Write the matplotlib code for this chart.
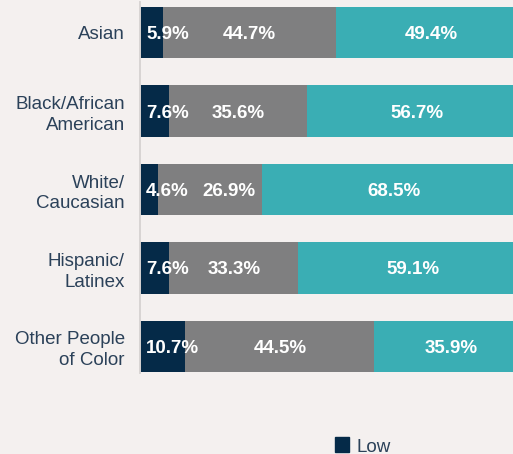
import matplotlib.pyplot as plt
from matplotlib.patches import Rectangle

groups = ['Asian', 'Black/African\nAmerican', 'White/\nCaucasian', 'Hispanic/\nLatinex', 'Other People\nof Color']
low = [5.9, 7.6, 4.6, 7.6, 10.7]
medium = [44.7, 35.6, 26.9, 33.3, 44.5]
high = [49.4, 56.7, 68.5, 59.1, 35.9]

bg = '#f4f0ef'
navy = '#052a48'
gray = '#7f7f80'
teal = '#3aaeb4'
text_col = '#2b4159'

plt.rcParams['font.family'] = ['Liberation Sans', 'DejaVu Sans']

# each bar is stretched to 100% (the last row only adds up to 91.1)
totals = [a + b + c for a, b, c in zip(low, medium, high)]
low_n = [v / t * 100 for v, t in zip(low, totals)]
med_n = [v / t * 100 for v, t in zip(medium, totals)]
high_n = [v / t * 100 for v, t in zip(high, totals)]
left_high = [a + b for a, b in zip(low_n, med_n)]

fig = plt.figure(figsize=(5.13, 4.54), dpi=100, facecolor=bg)
# axes runs off the right edge, the source image is cropped there
ax = fig.add_axes([140 / 513, 1 - 373 / 454, 387 / 513, 371 / 454])
ax.set_facecolor(bg)

y = list(range(len(groups)))
ax.barh(y, low_n, height=0.66, color=navy)
ax.barh(y, med_n, left=low_n, height=0.66, color=gray)
ax.barh(y, high_n, left=left_high, height=0.66, color=teal)

lbl = dict(color='white', fontsize=13.5, fontweight='bold', va='center_baseline')
for i in y:
    ax.annotate(f'{low[i]}%', xy=(0, i), xytext=(4.5, 0), textcoords='offset points',
                ha='left', **lbl)
    # keep the middle label clear of the narrow low label
    mx = max(low_n[i] + med_n[i] / 2, 23)
    ax.text(mx, i, f'{medium[i]}%', ha='center', **lbl)
    ax.text(left_high[i] + high_n[i] / 2, i, f'{high[i]}%', ha='center', **lbl)

ax.set_xlim(0, 100)
ax.set_ylim(4 + 26.5 / 78.5, -30.5 / 78.5)
ax.set_yticks(y)
ax.set_yticklabels(groups, fontsize=13.5, color=text_col, linespacing=1.3)
ax.tick_params(axis='y', length=0, pad=11)
ax.set_xticks([])
for s in ['top', 'right', 'bottom']:
    ax.spines[s].set_visible(False)
ax.spines['left'].set_color('#d8d4d3')
ax.spines['left'].set_linewidth(1.4)

# legend (only the first entry is visible in the crop)
fig.patches.append(Rectangle((335 / 513, 2 / 454), 14 / 513, 15 / 454,
                             transform=fig.transFigure, color=navy))
fig.text(356 / 513, 2.5 / 454, 'Low', fontsize=13.5, color=text_col, va='baseline')

fig.savefig('out.png', dpi=100, facecolor=bg)
